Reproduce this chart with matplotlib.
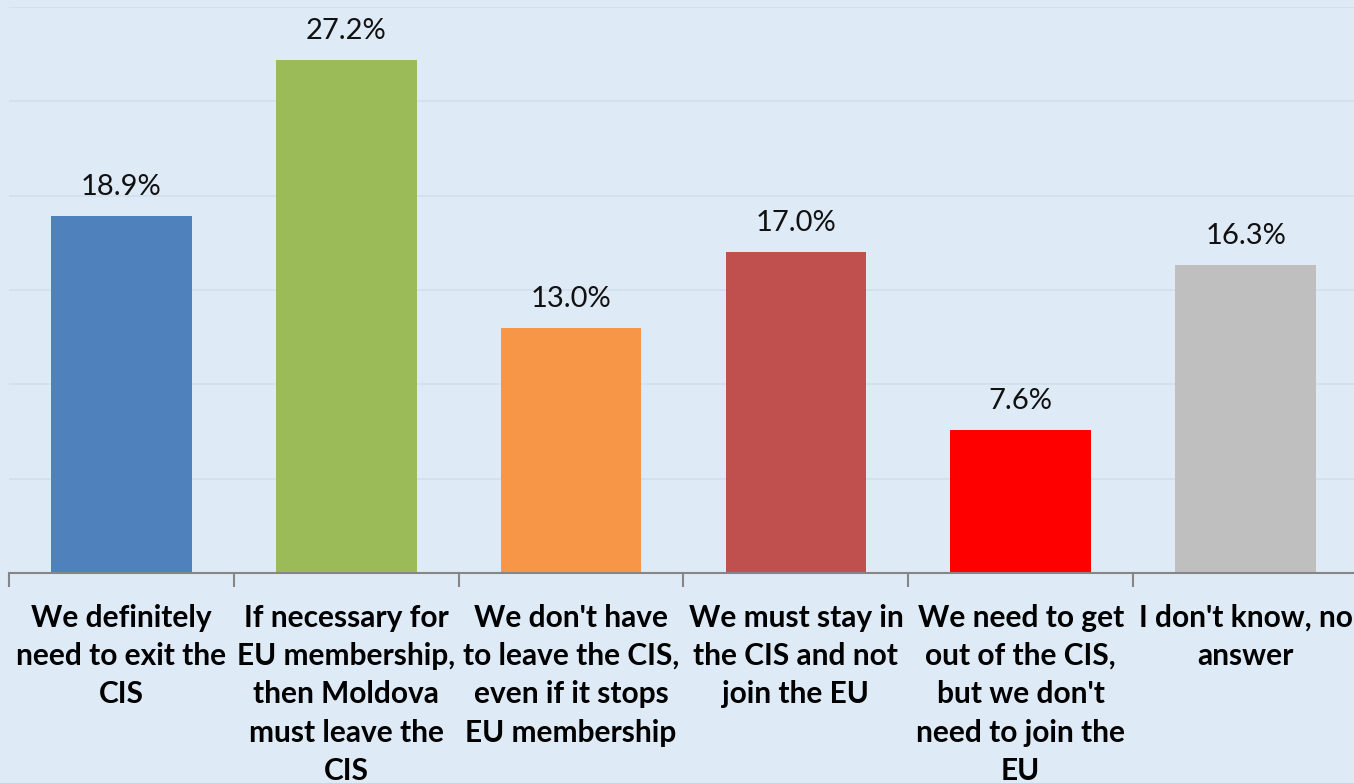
import matplotlib
matplotlib.use('Agg')
import matplotlib.pyplot as plt
import numpy as np

# survey answers (share of respondents, %)
categories = [
    "We definitely\nneed to exit the\nCIS",
    "If necessary for\nEU membership,\nthen Moldova\nmust leave the\nCIS",
    "We don't have\nto leave the CIS,\neven if it stops\nEU membership",
    "We must stay in\nthe CIS and not\njoin the EU",
    "We need to get\nout of the CIS,\nbut we don't\nneed to join the\nEU",
    "I don't know, no\nanswer",
]
values = [18.9, 27.2, 13.0, 17.0, 7.6, 16.3]
colors = ['#4F81BD', '#9BBB59', '#F79646', '#C0504D', '#FF0000', '#BFBFBF']

bg = '#DEEAF6'
fig = plt.figure(figsize=(13.54, 7.83), dpi=100)
fig.patch.set_facecolor(bg)
# axes runs a bit past the right edge of the picture, like the original crop
ax = fig.add_axes([9/1354, 1 - 573/783, 1349/1354, 566/783])
ax.set_facecolor(bg)

x = np.arange(len(values))
ax.bar(x, values, width=0.625, color=colors, zorder=2)
for xi, v in zip(x, values):
    ax.text(xi, v + 0.85, '%.1f%%' % v, ha='center', va='bottom',
            fontsize=21, family='Lato', color='#111111')

ax.set_ylim(0, 30)
ax.set_xlim(-0.5, 5.5)
ax.set_yticks(np.arange(0, 31, 5))
ax.yaxis.grid(True, color='#D3DFEC', linewidth=1.2, zorder=0)
ax.tick_params(axis='y', left=False, labelleft=False)

ax.set_xticks(x)
ax.set_xticklabels(categories, fontsize=21.5, fontweight='bold', family='Lato',
                   linespacing=1.45)
ax.tick_params(axis='x', which='major', length=0, pad=22)
ax.set_xticks(np.arange(-0.5, 6, 1), minor=True)
ax.tick_params(axis='x', which='minor', length=10, width=1.5, color='#868686')

for s in ['top', 'right', 'left']:
    ax.spines[s].set_visible(False)
ax.spines['bottom'].set_color('#868686')
ax.spines['bottom'].set_linewidth(1.5)

fig.savefig('out.png', dpi=100, facecolor=bg)
